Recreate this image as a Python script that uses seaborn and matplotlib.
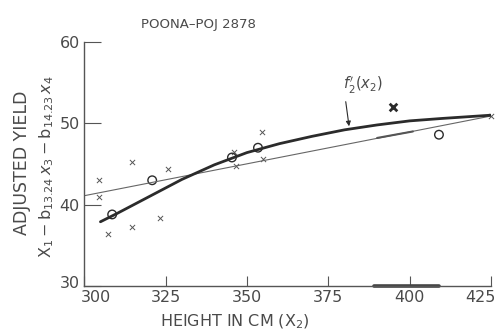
import matplotlib
matplotlib.use("Agg")
from matplotlib import pyplot as plt
from matplotlib.transforms import offset_copy
import seaborn as sns

# mean values (open circles)
circle_x = [308.6, 320.9, 345.4, 353.4, 409.0]
circle_y = [38.8, 43.0, 45.8, 47.0, 48.6]

# individual observations (crosses)
cross_x = [304.6, 304.6, 307.4, 314.7, 314.7, 323.3, 325.8, 346.0, 346.5, 354.6, 355.0, 425.0]
cross_y = [43.0, 41.0, 36.4, 45.2, 37.3, 38.4, 44.4, 46.5, 44.7, 48.9, 45.6, 50.9]
bold_x = [394.8]
bold_y = [52.0]

# fitted curve f2'(x2)
curve_x = [305, 310, 320, 330, 340, 350, 360, 370, 380, 390, 400, 410, 425]
curve_y = [37.9, 38.9, 41.0, 43.1, 44.9, 46.4, 47.5, 48.4, 49.2, 49.8, 50.3, 50.6, 51.0]

# straight linear fit
line_x = [300, 425]
line_y = [41.1, 50.9]

# heavier ink on the scan: part of the straight line and of the x axis
seg_x = [390, 401]
seg_y = [48.2, 49.0]
axis_seg_x = [389, 409]
axis_seg_y = [30, 30]

ink = "#2b2b2b"
txt = "#4a4a4a"

sns.set_style("ticks")
plt.rcParams["font.family"] = ["DejaVu Sans"]

fig = plt.figure(figsize=(4.98, 3.33), dpi=100)
ax = fig.add_axes([0.169, 0.141, 0.817, 0.733])

sns.lineplot(x=line_x, y=line_y, ax=ax, color="#666666", linewidth=0.8)
sns.lineplot(x=seg_x, y=seg_y, ax=ax, color="#555555", linewidth=1.5)
sns.lineplot(x=axis_seg_x, y=axis_seg_y, ax=ax, color="#444444", linewidth=2.6, clip_on=False)
sns.lineplot(x=curve_x, y=curve_y, ax=ax, color=ink, linewidth=2.0)
sns.scatterplot(x=cross_x, y=cross_y, ax=ax, marker="x", s=14, color="#555555",
                linewidth=0.7, clip_on=False)
sns.scatterplot(x=bold_x, y=bold_y, ax=ax, marker="x", s=30, color=ink, linewidth=2.0)
sns.scatterplot(x=circle_x, y=circle_y, ax=ax, marker="o", s=38, facecolor="none",
                edgecolor=ink, linewidth=1.0)

ax.set_xlim(300, 425)
ax.set_ylim(30, 60)
ax.set_xticks([300, 325, 350, 375, 400, 425])
ax.set_yticks([30, 40, 50, 60])
sns.despine(ax=ax, top=True, right=True)
for s in ["left", "bottom"]:
    ax.spines[s].set_color("#555555")
    ax.spines[s].set_linewidth(1.0)
ax.tick_params(axis="x", direction="in", length=7, color="#555555", labelsize=11.5,
               labelcolor=txt, pad=3)
ax.tick_params(axis="y", direction="in", length=12, color="#555555", labelsize=11.5,
               labelcolor=txt, pad=3)

fig.canvas.draw()
xl = ax.get_xticklabels()
xl[0].set_horizontalalignment("left")
xl[0].set_transform(offset_copy(xl[0].get_transform(), fig=fig, x=-3, y=0, units="dots"))
xl[-1].set_horizontalalignment("right")
xl[-1].set_transform(offset_copy(xl[-1].get_transform(), fig=fig, x=5, y=0, units="dots"))
yl = ax.get_yticklabels()
yl[0].set_transform(offset_copy(yl[0].get_transform(), fig=fig, x=0, y=4, units="dots"))

ax.annotate(r"$f_2'(x_2)$", xy=(381.5, 49.3), xytext=(379.5, 54.2), fontsize=10.5, color=txt,
            arrowprops=dict(arrowstyle="-|>", color=ink, lw=0.8, mutation_scale=7,
                            relpos=(0.05, 0.0)))

ax.text(0.14, 1.07, "POONA\u2013POJ 2878", transform=ax.transAxes, fontsize=9.5,
        color=txt, va="center")
ax.set_xlabel(r"HEIGHT IN CM ($\mathrm{X}_2$)", fontsize=11.5, color=txt)
ax.xaxis.set_label_coords(0.37, -0.11)
fig.text(0.045, 0.51, "ADJUSTED YIELD", rotation=90, fontsize=12.5, color=txt,
         ha="center", va="center")
fig.text(0.094, 0.50, r"$\mathrm{X}_1 - \mathrm{b}_{13.24}\,x_3 - \mathrm{b}_{14.23}\,x_4$",
         rotation=90, fontsize=11.5, color=txt, ha="center", va="center")

fig.savefig("out.png", dpi=100)
